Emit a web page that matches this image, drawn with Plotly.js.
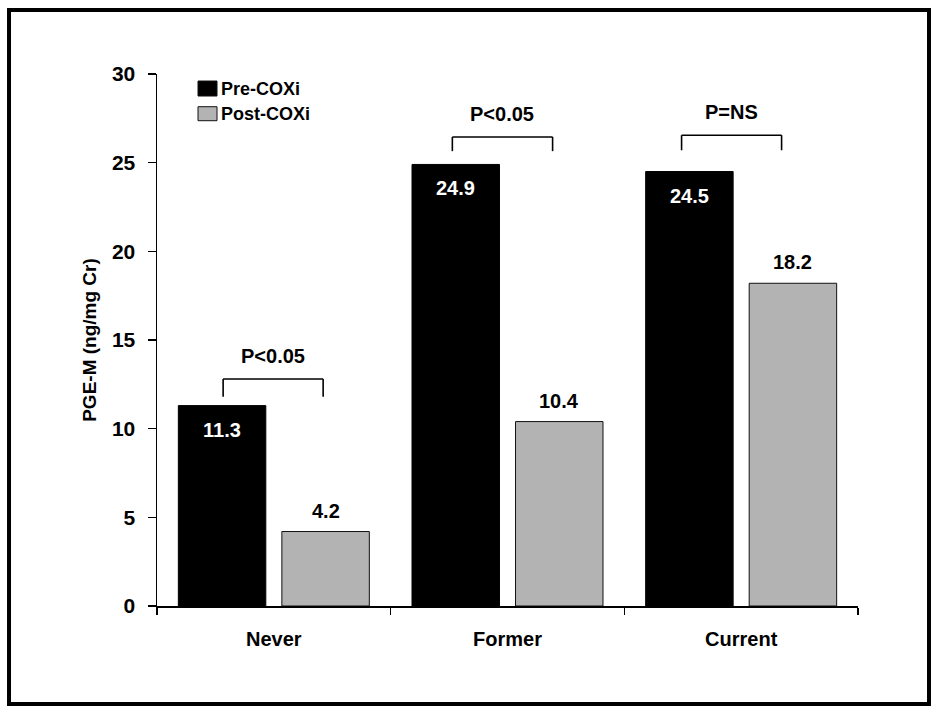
<!DOCTYPE html>
<html>
<head>
<meta charset="utf-8">
<script src="https://cdn.plot.ly/plotly-3.0.1.min.js"></script>
<style>html,body{margin:0;padding:0;background:#fff;}#chart{width:936px;height:714px;}</style>
</head>
<body>
<div id="chart"></div>
<script>
// ---- data ----
const categories = ["Never", "Former", "Current"];
const preCOXi = [11.3, 24.9, 24.5];
const postCOXi = [4.2, 10.4, 18.2];
const seriesNames = ["Pre-COXi", "Post-COXi"];
const pValues = ["P<0.05", "P<0.05", "P=NS"];
const yTickValues = [0, 5, 10, 15, 20, 25, 30];

// ---- styling / geometry (not data) ----
const FONT = "Liberation Sans, Arial, Helvetica, sans-serif";
const barOffset = 0.2214;            // half-slot offset of each bar inside a category (category units)
const bracketGeom = [                // [left, right, top, bottom] per category
  [-0.217, 0.211, 12.8, 11.8],
  [-0.236, 0.193, 26.45, 25.65],
  [-0.255, 0.173, 26.55, 25.7]
];

const traces = [
  {type: "bar", name: seriesNames[0], x: categories, y: preCOXi,
   marker: {color: "#000000", line: {color: "#000000", width: 1}}, hoverinfo: "x+y"},
  {type: "bar", name: seriesNames[1], x: categories, y: postCOXi,
   marker: {color: "#b3b3b3", line: {color: "#111111", width: 1}}, hoverinfo: "x+y"}
];

const shapes = [];
const annotations = [];

// outer frame
shapes.push({type: "rect", xref: "paper", yref: "paper",
  x0: -0.2111, x1: 1.1013, y0: -0.1842, y1: 1.1203,
  line: {color: "#000", width: 4}, fillcolor: "rgba(0,0,0,0)", layer: "above"});

// value labels
categories.forEach((c, i) => {
  annotations.push({x: i - barOffset, y: preCOXi[i], xref: "x", yref: "y", text: preCOXi[i].toFixed(1),
    showarrow: false, yshift: -24, font: {family: FONT, size: 20, color: "#ffffff", weight: "bold"}});
  annotations.push({x: i + barOffset, y: postCOXi[i], xref: "x", yref: "y", text: postCOXi[i].toFixed(1),
    showarrow: false, yshift: 21, font: {family: FONT, size: 20, color: "#000000", weight: "bold"}});
});

// significance brackets
categories.forEach((c, i) => {
  const [l, r, top, bot] = bracketGeom[i];
  const ln = {color: "#000", width: 1.6};
  shapes.push({type: "line", xref: "x", yref: "y", x0: i + l, x1: i + r, y0: top, y1: top, line: ln});
  shapes.push({type: "line", xref: "x", yref: "y", x0: i + l, x1: i + l, y0: top, y1: bot, line: ln});
  shapes.push({type: "line", xref: "x", yref: "y", x0: i + r, x1: i + r, y0: top, y1: bot, line: ln});
  annotations.push({x: i + (l + r) / 2, y: top, xref: "x", yref: "y", text: pValues[i],
    showarrow: false, yshift: 23, font: {family: FONT, size: 20, color: "#000", weight: "bold"}});
});

// legend (drawn manually to match compact symbol/text spacing)
const legendItems = [
  {fill: "#000000", y0: 0.9586, y1: 0.9868, ty: 0.9727},
  {fill: "#b3b3b3", y0: 0.9122, y1: 0.9385, ty: 0.9254}
];
legendItems.forEach((it, k) => {
  shapes.push({type: "rect", xref: "paper", yref: "paper", x0: 0.0585, x1: 0.0856,
    y0: it.y0, y1: it.y1, fillcolor: it.fill, line: {color: "#111", width: 1}});
  annotations.push({xref: "paper", yref: "paper", x: 0.0885, y: it.ty, xanchor: "left", yanchor: "middle",
    text: seriesNames[k], showarrow: false, font: {family: FONT, size: 18, color: "#000", weight: "bold"}});
});

const layout = {
  width: 936, height: 714,
  margin: {l: 157, r: 78, t: 74, b: 108, pad: 0},
  paper_bgcolor: "#ffffff", plot_bgcolor: "#ffffff",
  showlegend: false,
  barmode: "group", bargap: 0.114, bargroupgap: 0.155,
  font: {family: FONT, color: "#000"},
  xaxis: {
    type: "category", tickson: "boundaries", ticks: "outside", ticklen: 7, tickwidth: 1.5, tickcolor: "#000",
    showline: true, linecolor: "#000", linewidth: 1.5, showgrid: false, zeroline: false,
    tickfont: {family: FONT, size: 20, color: "#000", weight: "bold"}, ticklabelstandoff: 14,
    range: [-0.5, 2.5], fixedrange: true
  },
  yaxis: {
    range: [0, 30], tickvals: yTickValues, ticks: "outside", ticklen: 8, tickwidth: 1.5, tickcolor: "#000",
    showline: true, linecolor: "#000", linewidth: 1.5, showgrid: false, zeroline: false,
    tickfont: {family: FONT, size: 21, color: "#000", weight: "bold"}, ticklabelstandoff: 8,
    title: {text: "PGE-M (ng/mg Cr)", font: {family: FONT, size: 19, color: "#000", weight: "bold"}, standoff: 10},
    fixedrange: true
  },
  shapes: shapes,
  annotations: annotations
};

Plotly.newPlot("chart", traces, layout, {displayModeBar: false, staticPlot: true});
</script>
</body>
</html>
